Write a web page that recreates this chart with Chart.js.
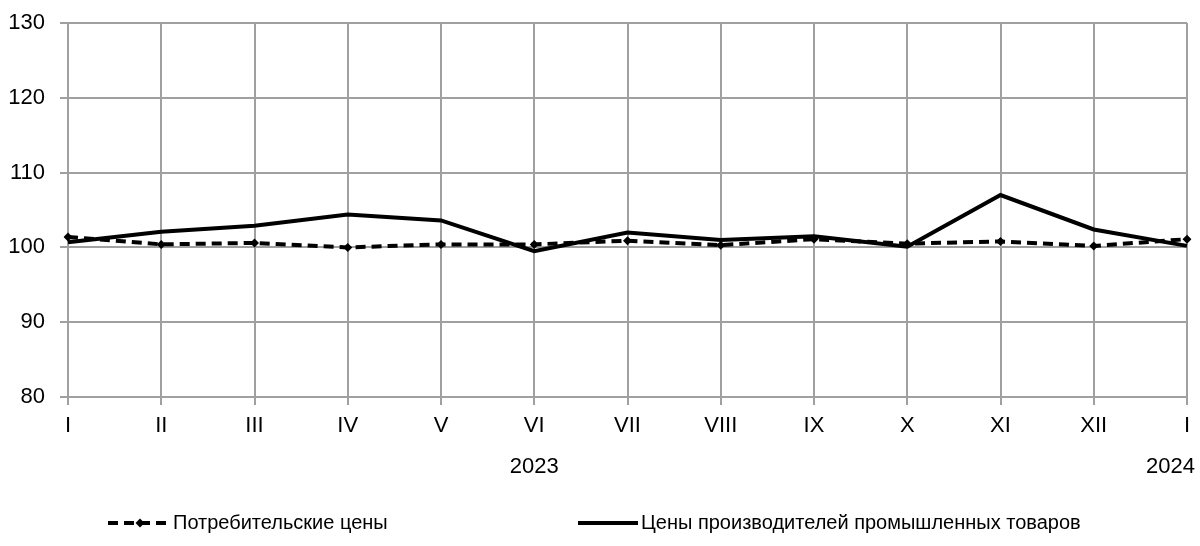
<!DOCTYPE html>
<html>
<head>
<meta charset="utf-8">
<script src="https://cdn.jsdelivr.net/npm/chart.js@4/dist/chart.umd.min.js"></script>
<style>
  html, body { margin: 0; padding: 0; background: #fff; }
  #wrap { width: 1200px; height: 546px; }
</style>
</head>
<body>
<div id="wrap"><canvas id="c" width="1200" height="546"></canvas></div>
<script>
const months = ['I','II','III','IV','V','VI','VII','VIII','IX','X','XI','XII','I'];
const years = ['', '', '', '', '', '2023', '', '', '', '', '', '', '2024'];
const consumerPrices = [101.4, 100.4, 100.6, 100.0, 100.4, 100.4, 100.9, 100.3, 101.1, 100.5, 100.8, 100.2, 101.1];
const producerPrices = [100.7, 102.1, 102.9, 104.4, 103.6, 99.5, 102.0, 101.0, 101.5, 100.1, 107.0, 102.4, 100.2];
const seriesNames = ['Потребительские цены', 'Цены производителей промышленных товаров'];
const yTicks = [80, 90, 100, 110, 120, 130];

const FONT = "'Liberation Sans', Arial, sans-serif";
const GRID = '#a0a0a0';
const TICK_SIZE = 22;

const yearPlugin = {
  id: 'yearLabels',
  afterDraw(chart) {
    const ctx = chart.ctx;
    const xs = chart.scales.x;
    ctx.save();
    ctx.font = TICK_SIZE + 'px ' + FONT;
    ctx.fillStyle = '#000';
    ctx.textBaseline = 'middle';
    ctx.textAlign = 'left';
    years.forEach((y, i) => {
      if (!y) return;
      const px = xs.getPixelForValue(i);
      const w = ctx.measureText(y).width;
      let left = px - w / 2;
      if (left + w > chart.width - 5) left = chart.width - 5 - w;
      ctx.fillText(y, left, xs.top + 70);
    });
    ctx.restore();
  }
};

const legendPlugin = {
  id: 'customLegend',
  afterDraw(chart) {
    const ctx = chart.ctx;
    const y = 523;
    ctx.save();
    ctx.font = '20px ' + FONT;
    ctx.fillStyle = '#000';
    ctx.textBaseline = 'middle';
    ctx.textAlign = 'left';
    ctx.strokeStyle = '#000';
    ctx.lineWidth = 4;
    ctx.setLineDash([10, 6]);
    ctx.beginPath(); ctx.moveTo(108, y); ctx.lineTo(170, y); ctx.stroke();
    ctx.setLineDash([]);
    ctx.beginPath();
    const cx = 140, r = 4.5;
    ctx.moveTo(cx, y - r); ctx.lineTo(cx + r, y); ctx.lineTo(cx, y + r); ctx.lineTo(cx - r, y); ctx.closePath();
    ctx.fill();
    ctx.fillText(seriesNames[0], 173, y);
    ctx.beginPath(); ctx.moveTo(578, y); ctx.lineTo(638, y); ctx.stroke();
    ctx.fillText(seriesNames[1], 641, y);
    ctx.restore();
  }
};

new Chart(document.getElementById('c'), {
  type: 'line',
  data: {
    labels: months,
    datasets: [
      {
        label: seriesNames[0],
        data: consumerPrices,
        borderColor: '#000',
        backgroundColor: '#000',
        borderWidth: 4,
        borderDash: [10, 6],
        pointStyle: 'rectRot',
        pointRadius: 4.5,
        pointBorderWidth: 0,
        pointBackgroundColor: '#000',
        tension: 0,
        order: 2
      },
      {
        label: seriesNames[1],
        data: producerPrices,
        borderColor: '#000',
        backgroundColor: '#000',
        borderWidth: 4,
        pointRadius: 0,
        tension: 0,
        order: 1
      }
    ]
  },
  options: {
    responsive: false,
    animation: false,
    devicePixelRatio: 1,
    layout: { padding: { top: 23, right: 13, bottom: 0, left: 0 } },
    plugins: {
      legend: { display: false },
      tooltip: { enabled: false }
    },
    scales: {
      x: {
        type: 'category',
        offset: false,
        grid: { color: GRID, lineWidth: 2, tickLength: 8, offset: false },
        border: { color: GRID, width: 2 },
        ticks: {
          autoSkip: false, maxRotation: 0, minRotation: 0,
          color: '#000', padding: 8,
          font: { family: FONT, size: TICK_SIZE }
        },
        afterFit(scale) { scale.height = 149; scale.paddingLeft = 0; scale.paddingRight = 0; }
      },
      y: {
        min: 80, max: 130,
        afterBuildTicks(scale) { scale.ticks = yTicks.map(v => ({ value: v })); },
        grid: { color: GRID, lineWidth: 2, tickLength: 8 },
        border: { color: GRID, width: 2 },
        ticks: {
          color: '#000', padding: 15,
          font: { family: FONT, size: TICK_SIZE }
        },
        afterFit(scale) { scale.width = 68; scale.paddingTop = 0; scale.paddingBottom = 0; }
      }
    }
  },
  plugins: [yearPlugin, legendPlugin]
});
</script>
</body>
</html>
